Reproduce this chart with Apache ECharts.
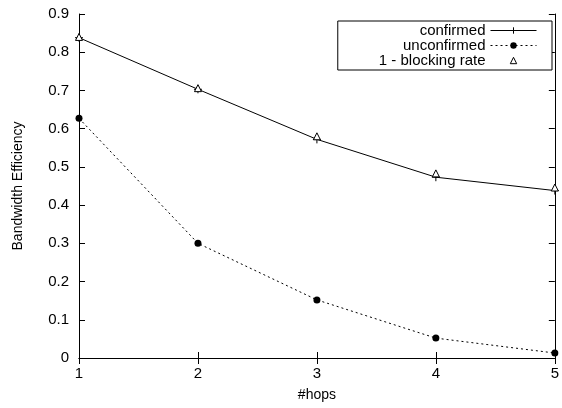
<!DOCTYPE html>
<html>
<head>
<meta charset="utf-8">
<script src="https://cdn.jsdelivr.net/npm/echarts@6/dist/echarts.min.js"></script>
<style>
  html, body { margin: 0; padding: 0; background: #fff; }
  #chart { width: 562px; height: 408px; }
</style>
</head>
<body>
<div id="chart"></div>
<script>
// hops on the x axis
const hops = [1, 2, 3, 4, 5];
const confirmed = [0.838, 0.703, 0.572, 0.473, 0.438];
const unconfirmed = [0.627, 0.300, 0.152, 0.052, 0.013];
const blockingRate = [0.840, 0.706, 0.580, 0.483, 0.446];
const yTicks = [0, 0.1, 0.2, 0.3, 0.4, 0.5, 0.6, 0.7, 0.8, 0.9];

const fontFamily = '"Liberation Sans", Arial, sans-serif';
const plusSymbol = 'path://M0,5L10,5M5,0L5,10';

function pairs(values) {
    return hops.map((h, i) => [h, values[i]]);
}

var chart = echarts.init(document.getElementById('chart'));
var option = {
    animation: false,
    backgroundColor: '#fff',
    textStyle: { fontFamily: fontFamily, color: '#000' },
    grid: { left: 79, right: 7, top: 14, bottom: 50 },
    legend: {
        orient: 'vertical',
        right: 10,
        top: 21,
        align: 'right',
        itemWidth: 46,
        itemHeight: 8,
        itemGap: 0,
        padding: [2, 15, 2, 41],
        borderColor: '#000',
        borderWidth: 1,
        borderRadius: 0,
        backgroundColor: '#fff',
        lineStyle: { width: 1 },
        itemStyle: { borderWidth: 1 },
        textStyle: { fontSize: 15, lineHeight: 14, color: '#000', fontFamily: fontFamily },
        data: ['confirmed', 'unconfirmed', '1 - blocking rate']
    },
    xAxis: [{
        type: 'value',
        min: 1,
        max: 5,
        interval: 1,
        name: '#hops',
        nameLocation: 'middle',
        nameGap: 30,
        nameTextStyle: { fontSize: 14, color: '#000' },
        axisLine: { lineStyle: { color: '#000' } },
        axisTick: { inside: true, length: 6, lineStyle: { color: '#000' } },
        axisLabel: { fontSize: 15, color: '#000', margin: 8 },
        splitLine: { show: false }
    }, {
        type: 'value',
        position: 'top',
        min: 1,
        max: 5,
        interval: 1,
        axisLine: { lineStyle: { color: '#000' } },
        axisTick: { inside: true, length: 6, lineStyle: { color: '#000' } },
        axisLabel: { show: false },
        splitLine: { show: false }
    }],
    yAxis: [{
        type: 'value',
        min: 0,
        max: 0.9,
        interval: 0.1,
        name: 'Bandwidth Efficiency',
        nameLocation: 'middle',
        nameGap: 54,
        nameTextStyle: { fontSize: 14, color: '#000' },
        axisLine: { show: true, lineStyle: { color: '#000' } },
        axisTick: { show: true, inside: true, length: 6, lineStyle: { color: '#000' } },
        axisLabel: {
            fontSize: 15, color: '#000', margin: 10,
            formatter: v => {
                const t = yTicks.find(y => Math.abs(y - v) < 1e-6);
                return t === undefined ? '' : String(t);
            }
        },
        splitLine: { show: false }
    }, {
        type: 'value',
        position: 'right',
        min: 0,
        max: 0.9,
        interval: 0.1,
        axisLine: { show: true, lineStyle: { color: '#000' } },
        axisTick: { show: true, inside: true, length: 6, lineStyle: { color: '#000' } },
        axisLabel: { show: false },
        splitLine: { show: false }
    }],
    series: [{
        name: 'confirmed',
        type: 'line',
        data: pairs(confirmed),
        symbol: plusSymbol,
        symbolSize: 8,
        lineStyle: { color: '#000', width: 1 },
        itemStyle: { color: '#000', borderColor: '#000', borderWidth: 1 },
        z: 3
    }, {
        name: 'unconfirmed',
        type: 'line',
        data: pairs(unconfirmed),
        symbol: 'circle',
        symbolSize: 7,
        lineStyle: { color: '#000', width: 1, type: [2, 3] },
        itemStyle: { color: '#000' },
        z: 3
    }, {
        name: '1 - blocking rate',
        type: 'line',
        data: pairs(blockingRate),
        symbol: 'triangle',
        symbolSize: 7,
        lineStyle: { width: 0, opacity: 0 },
        itemStyle: { color: '#fff', borderColor: '#000', borderWidth: 1 },
        z: 4
    }]
};
chart.setOption(option);
</script>
</body>
</html>
